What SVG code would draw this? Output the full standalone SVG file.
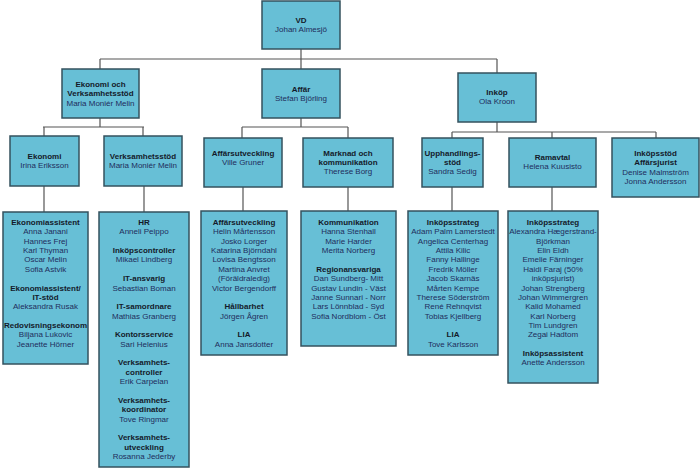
<svg xmlns="http://www.w3.org/2000/svg" width="700" height="469" viewBox="0 0 700 469">
<style>
rect.box{fill:#67bfd6;stroke:#34525e;stroke-width:1.5}
text{font-family:"Liberation Sans",Arial,sans-serif;font-size:8px;text-anchor:middle;fill:#1f2d5c}
.b{font-weight:bold;fill:#141a2a}
#connectors path{fill:none;stroke:#555;stroke-width:1.2}
</style>
<rect width="700" height="469" fill="#ffffff"/>
<g id="connectors">
<path d="M301,49V59M100,59H497M100,59V69M301,59V69M497,59V73"/>
<path d="M100,118V127M43,127H144M44,127V136M143,127V136"/>
<path d="M301,118V127M242,127H348M242,127V138M348,127V138"/>
<path d="M497,122V132M452,132H656M452,132V138M552,132V138M656,132V138"/>
<path d="M44,186V212M144,186V212M243,187V211M348,187V211M452,187V211M552,187V211"/>
</g>
<g id="vd"><rect class="box" x="262" y="1" width="78" height="48"/>
<text x="301" y="23" class="b">VD</text><text x="301" y="32">Johan Almesjö</text></g>
<g id="ekonomi-verksamhetsstod"><rect class="box" x="62" y="69" width="77" height="49"/>
<text x="100.5" y="87" class="b">Ekonomi och</text><text x="100.5" y="96" class="b">Verksamhetsstöd</text><text x="100.5" y="105.5">Maria Moniér Melin</text></g>
<g id="affar"><rect class="box" x="262" y="69" width="78" height="49"/>
<text x="301" y="91.5" class="b">Affär</text><text x="301" y="101">Stefan Björling</text></g>
<g id="inkop"><rect class="box" x="458" y="73" width="78" height="49"/>
<text x="497" y="95.3" class="b">Inköp</text><text x="497" y="104.3">Ola Kroon</text></g>
<g id="ekonomi"><rect class="box" x="10" y="136" width="69" height="50"/>
<text x="44.5" y="159" class="b">Ekonomi</text><text x="44.5" y="167.7">Irina Eriksson</text></g>
<g id="verksamhetsstod"><rect class="box" x="104" y="136" width="78" height="50"/>
<text x="143" y="159" class="b">Verksamhetsstöd</text><text x="143" y="167.7">Maria Moniér Melin</text></g>
<g id="affarsutveckling"><rect class="box" x="204" y="138" width="78" height="49"/>
<text x="243" y="156" class="b">Affärsutveckling</text><text x="243" y="165">Ville Gruner</text></g>
<g id="marknad"><rect class="box" x="303" y="138" width="90" height="49"/>
<text x="348" y="155.7" class="b">Marknad och</text><text x="348" y="164.7" class="b">kommunikation</text><text x="348" y="174">Therese Borg</text></g>
<g id="upphandlingsstod"><rect class="box" x="422" y="138" width="61" height="49"/>
<text x="452.5" y="155.7" class="b">Upphandlings-</text><text x="452.5" y="164.7" class="b">stöd</text><text x="452.5" y="174">Sandra Sedig</text></g>
<g id="ramavtal"><rect class="box" x="509" y="138" width="87" height="49"/>
<text x="552.5" y="160.3" class="b">Ramavtal</text><text x="552.5" y="169.3">Helena Kuusisto</text></g>
<g id="inkopsstod"><rect class="box" x="612" y="138" width="87" height="59"/>
<text x="655.5" y="155.7" class="b">Inköpsstöd</text><text x="655.5" y="164.7" class="b">Affärsjurist</text><text x="655.5" y="174.5">Denise Malmström</text><text x="655.5" y="183.5">Jonna Andersson</text></g>
<g id="ekonomi-lista"><rect class="box" x="3" y="212" width="85" height="152"/>
<text y="225"><tspan x="45.5" class="b">Ekonomiassistent</tspan><tspan x="45.5" dy="9.36">Anna Janani</tspan><tspan x="45.5" dy="9.36">Hannes Frej</tspan><tspan x="45.5" dy="9.36">Karl Thyman</tspan><tspan x="45.5" dy="9.36">Oscar Melin</tspan><tspan x="45.5" dy="9.36">Sofia Astvik</tspan><tspan x="45.5" dy="18.72" class="b">Ekonomiassistent/</tspan><tspan x="45.5" dy="9.36" class="b">IT-stöd</tspan><tspan x="45.5" dy="9.36">Aleksandra Rusak</tspan><tspan x="45.5" dy="18.72" class="b">Redovisningsekonom</tspan><tspan x="45.5" dy="9.36">Biljana Lukovic</tspan><tspan x="45.5" dy="9.36">Jeanette Hörner</tspan></text></g>
<g id="verksamhetsstod-lista"><rect class="box" x="99" y="212" width="90" height="255"/>
<text y="225"><tspan x="144" class="b">HR</tspan><tspan x="144" dy="9.36">Anneli Peippo</tspan><tspan x="144" dy="18.72" class="b">Inköpscontroller</tspan><tspan x="144" dy="9.36">Mikael Lindberg</tspan><tspan x="144" dy="18.72" class="b">IT-ansvarig</tspan><tspan x="144" dy="9.36">Sebastian Boman</tspan><tspan x="144" dy="18.72" class="b">IT-samordnare</tspan><tspan x="144" dy="9.36">Mathias Granberg</tspan><tspan x="144" dy="18.72" class="b">Kontorsservice</tspan><tspan x="144" dy="9.36">Sari Helenius</tspan><tspan x="144" dy="18.72" class="b">Verksamhets-</tspan><tspan x="144" dy="9.36" class="b">controller</tspan><tspan x="144" dy="9.36">Erik Carpelan</tspan><tspan x="144" dy="18.72" class="b">Verksamhets-</tspan><tspan x="144" dy="9.36" class="b">koordinator</tspan><tspan x="144" dy="9.36">Tove Ringmar</tspan><tspan x="144" dy="18.72" class="b">Verksamhets-</tspan><tspan x="144" dy="9.36" class="b">utveckling</tspan><tspan x="144" dy="9.36">Rosanna Jederby</tspan></text></g>
<g id="affarsutveckling-lista"><rect class="box" x="201" y="211" width="86" height="144"/>
<text y="225"><tspan x="244" class="b">Affärsutveckling</tspan><tspan x="244" dy="9.36">Helin Mårtensson</tspan><tspan x="244" dy="9.36">Josko Lorger</tspan><tspan x="244" dy="9.36">Katarina Björndahl</tspan><tspan x="244" dy="9.36">Lovisa Bengtsson</tspan><tspan x="244" dy="9.36">Martina Anvret</tspan><tspan x="244" dy="9.36">(Föräldraledig)</tspan><tspan x="244" dy="9.36">Victor Bergendorff</tspan><tspan x="244" dy="18.72" class="b">Hållbarhet</tspan><tspan x="244" dy="9.36">Jörgen Ågren</tspan><tspan x="244" dy="18.72" class="b">LIA</tspan><tspan x="244" dy="9.36">Anna Jansdotter</tspan></text></g>
<g id="kommunikation-lista"><rect class="box" x="301" y="211" width="95" height="135"/>
<text y="225"><tspan x="348.5" class="b">Kommunikation</tspan><tspan x="348.5" dy="9.36">Hanna Stenhall</tspan><tspan x="348.5" dy="9.36">Marie Harder</tspan><tspan x="348.5" dy="9.36">Merita Norberg</tspan><tspan x="348.5" dy="18.72" class="b">Regionansvariga</tspan><tspan x="348.5" dy="9.36">Dan Sundberg- Mitt</tspan><tspan x="348.5" dy="9.36">Gustav Lundin - Väst</tspan><tspan x="348.5" dy="9.36">Janne Sunnari - Norr</tspan><tspan x="348.5" dy="9.36">Lars Lönnblad - Syd</tspan><tspan x="348.5" dy="9.36">Sofia Nordblom - Öst</tspan></text></g>
<g id="upphandling-lista"><rect class="box" x="408" y="211" width="90" height="144"/>
<text y="225"><tspan x="453" class="b">Inköpsstrateg</tspan><tspan x="453" dy="9.36">Adam Palm Lamerstedt</tspan><tspan x="453" dy="9.36">Angelica Centerhag</tspan><tspan x="453" dy="9.36">Attila Kilic</tspan><tspan x="453" dy="9.36">Fanny Hallinge</tspan><tspan x="453" dy="9.36">Fredrik Möller</tspan><tspan x="453" dy="9.36">Jacob Skarnäs</tspan><tspan x="453" dy="9.36">Mårten Kempe</tspan><tspan x="453" dy="9.36">Therese Söderström</tspan><tspan x="453" dy="9.36">René Rehnqvist</tspan><tspan x="453" dy="9.36">Tobias Kjellberg</tspan><tspan x="453" dy="18.72" class="b">LIA</tspan><tspan x="453" dy="9.36">Tove Karlsson</tspan></text></g>
<g id="ramavtal-lista"><rect class="box" x="508" y="211" width="90" height="172"/>
<text y="225"><tspan x="553" class="b">Inköpsstrateg</tspan><tspan x="553" dy="9.36">Alexandra Hægerstrand-</tspan><tspan x="553" dy="9.36">Björkman</tspan><tspan x="553" dy="9.36">Elin Eldh</tspan><tspan x="553" dy="9.36">Emelie Färninger</tspan><tspan x="553" dy="9.36">Haidi Faraj (50%</tspan><tspan x="553" dy="9.36">inköpsjurist)</tspan><tspan x="553" dy="9.36">Johan Strengberg</tspan><tspan x="553" dy="9.36">Johan Wimmergren</tspan><tspan x="553" dy="9.36">Kalid Mohamed</tspan><tspan x="553" dy="9.36">Karl Norberg</tspan><tspan x="553" dy="9.36">Tim Lundgren</tspan><tspan x="553" dy="9.36">Zegai Hadtom</tspan><tspan x="553" dy="18.72" class="b">Inköpsassistent</tspan><tspan x="553" dy="9.36">Anette Andersson</tspan></text></g>
</svg>
